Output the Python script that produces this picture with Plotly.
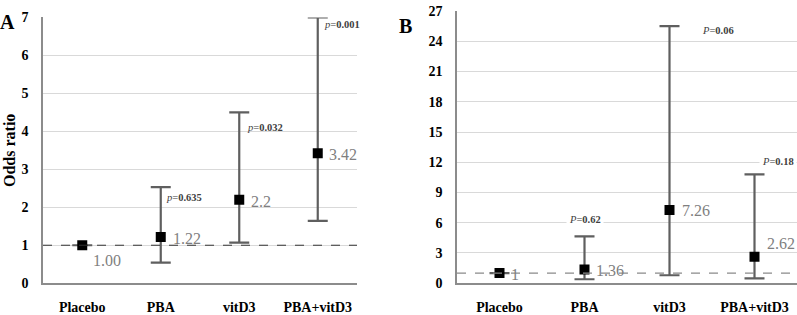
import plotly.graph_objects as go

categories = ["Placebo", "PBA", "vitD3", "PBA+vitD3"]

# Panel A
a_or = [1.00, 1.22, 2.2, 3.42]
a_lo = [None, 0.54, 1.07, 1.64]
a_hi = [None, 2.53, 4.5, 7.0]
a_labels = ["1.00", "1.22", "2.2", "3.42"]
a_p = [None, "0.635", "0.032", "0.001"]
a_ticks = [0, 1, 2, 3, 4, 5, 6, 7]

# Panel B
b_or = [1, 1.36, 7.26, 2.62]
b_lo = [None, 0.39, 0.79, 0.47]
b_hi = [None, 4.65, 25.5, 10.8]
b_labels = ["1", "1.36", "7.26", "2.62"]
b_p = [None, "0.62", "0.06", "0.18"]
b_ticks = [0, 3, 6, 9, 12, 15, 18, 21, 24, 27]

W, H = 797, 315
SERIF = "Liberation Serif"
ERR = "#5f5f5f"
GRID = "#d9d9d9"
AX = "#8c8c8c"

def err_arrays(v, lo, hi):
    plus = [None if h is None else h - x for x, h in zip(v, hi)]
    minus = [None if l is None else x - l for x, l in zip(v, lo)]
    return plus, minus

x_idx = list(range(len(categories)))

fig = go.Figure()
for vals, lo, hi, xa, ya in [(a_or, a_lo, a_hi, "x", "y"), (b_or, b_lo, b_hi, "x2", "y2")]:
    plus, minus = err_arrays(vals, lo, hi)
    fig.add_trace(go.Scatter(
        x=x_idx, y=vals, mode="markers", xaxis=xa, yaxis=ya,
        marker=dict(symbol="square", size=10, color="black"),
        error_y=dict(type="data", symmetric=False, array=plus, arrayminus=minus,
                     color=ERR, thickness=2.2, width=10),
        showlegend=False, hoverinfo="skip"))

ax_common = dict(showgrid=False, zeroline=False, showline=True, linecolor=AX, linewidth=1.5,
                 tickmode="array", tickvals=x_idx, ticktext=categories, ticks="",
                 ticklabelstandoff=10,
                 tickfont=dict(family=SERIF, size=14, color="black", weight="bold"), range=[-0.5, 3.5])
ay_common = dict(showgrid=True, gridcolor=GRID, gridwidth=1, zeroline=False, showline=True,
                 linecolor=AX, linewidth=1.5, ticks="", ticklabelstandoff=10,
                 tickfont=dict(family=SERIF, size=14, color="black", weight="bold"))

fig.update_layout(
    width=W, height=H, margin=dict(l=0, r=0, t=0, b=0),
    paper_bgcolor="white", plot_bgcolor="white",
    xaxis=dict(domain=[43 / W, 357 / W], anchor="y", **ax_common),
    yaxis=dict(domain=[25 / H, 304 / H], anchor="x", range=[0, 7], tickvals=a_ticks,
               title=dict(text="Odds ratio", font=dict(family=SERIF, size=16, color="black", weight="bold"), standoff=2),
               **ay_common),
    xaxis2=dict(domain=[457 / W, 1.0], anchor="y2", **ax_common),
    yaxis2=dict(domain=[25 / H, 310.7 / H], anchor="x2", range=[0, 27], tickvals=b_ticks, **ay_common),
)

# reference lines at OR = 1
fig.add_shape(type="line", xref="x", yref="y", x0=-0.5, x1=3.5, y0=1, y1=1,
              line=dict(color="#333333", width=1, dash="dash"))
fig.add_shape(type="line", xref="x2", yref="y2", x0=-0.5, x1=3.5, y0=1, y1=1,
              line=dict(color="#8a8a8a", width=1.2, dash="dash"))

# value labels
a_shift = [(25, -15), (26, -2), (22, -2), (25, -1)]
for i, (v, t) in enumerate(zip(a_or, a_labels)):
    dx, dy = a_shift[i]
    fig.add_annotation(x=i, y=v, xref="x", yref="y", text=t, showarrow=False,
                       xshift=dx, yshift=dy, font=dict(family=SERIF, size=16, color="#7f7f7f"))
b_shift = [(15, -1), (25, -1), (26, 0), (26, 13)]
for i, (v, t) in enumerate(zip(b_or, b_labels)):
    dx, dy = b_shift[i]
    fig.add_annotation(x=i, y=v, xref="x2", yref="y2", text=t, showarrow=False,
                       xshift=dx, yshift=dy, font=dict(family=SERIF, size=16, color="#7f7f7f"))

# p-value labels
a_pshift = [None, (23, -10), (26, -15), (24, -7)]
for i, (h, p) in enumerate(zip(a_hi, a_p)):
    if p is None:
        continue
    dx, dy = a_pshift[i]
    fig.add_annotation(x=i, y=h, xref="x", yref="y", text=f"<i>p</i>=<b>{p}</b>", showarrow=False,
                       xshift=dx, yshift=dy, font=dict(family=SERIF, size=10.5, color="#404040"))
b_pshift = [None, (0, 17), (48, -4), (23, 13)]
for i, (h, p) in enumerate(zip(b_hi, b_p)):
    if p is None:
        continue
    dx, dy = b_pshift[i]
    fig.add_annotation(x=i, y=h, xref="x2", yref="y2", text=f"<i>P</i>=<b>{p}</b>", showarrow=False,
                       xshift=dx, yshift=dy, bgcolor="white", borderpad=2,
                       font=dict(family=SERIF, size=10.5, color="#404040"))

# panel letters
fig.add_annotation(x=8 / W, y=1 - 16 / H, xref="paper", yref="paper", text="A", showarrow=False,
                   xanchor="center", yanchor="middle",
                   font=dict(family=SERIF, size=20, color="black", weight="bold"))
fig.add_annotation(x=405 / W, y=1 - 20 / H, xref="paper", yref="paper", text="B", showarrow=False,
                   xanchor="center", yanchor="middle",
                   font=dict(family=SERIF, size=20, color="black", weight="bold"))

fig.write_html("out.html")
